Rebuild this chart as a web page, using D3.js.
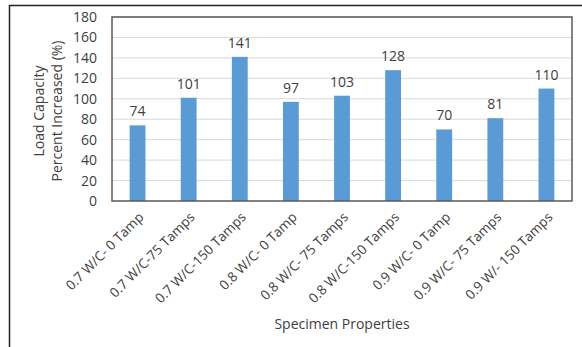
<!DOCTYPE html>
<html>
<head>
<meta charset="utf-8">
<script src="https://cdn.jsdelivr.net/npm/d3@7"></script>
<style>
  body { margin: 0; background: #fff; }
  text { font-family: "Open Sans", sans-serif; fill: #404040; }
</style>
</head>
<body>
<svg width="582" height="347"></svg>
<script>
const categories = [
    '0.7 W/C- 0 Tamp', '0.7 W/C-75 Tamps', '0.7 W/C-150 Tamps',
    '0.8 W/C- 0 Tamp', '0.8 W/C- 75 Tamps', '0.8 W/C-150 Tamps',
    '0.9 W/C- 0 Tamp', '0.9 W/C- 75 Tamps', '0.9 W/- 150 Tamps'
];
const values = [74, 101, 141, 97, 103, 128, 70, 81, 110];
const yTicks = [0, 20, 40, 60, 80, 100, 120, 140, 160, 180];

const svg = d3.select('svg');
const font = '"Open Sans", sans-serif';

// outer frame (only left and top visible)
svg.append('path')
    .attr('d', 'M9.5,347 V5.5 H582')
    .attr('fill', 'none')
    .attr('stroke', '#222')
    .attr('stroke-width', 1.5);

const margin = { top: 17, right: 10, bottom: 146, left: 112 };
const innerWidth = 572 - margin.left;
const innerHeight = 201 - margin.top;

const g = svg.append('g')
    .attr('transform', `translate(${margin.left}, ${margin.top})`);

const xScale = d3.scaleBand()
    .domain(categories)
    .range([0, innerWidth])
    .paddingInner(0.69)
    .paddingOuter(0.345);

const yScale = d3.scaleLinear()
    .domain([0, 180])
    .range([innerHeight, 0]);

// gridlines
g.append('g')
    .selectAll('line')
    .data(yTicks.slice(1))
    .join('line')
    .attr('x1', 0)
    .attr('x2', innerWidth)
    .attr('y1', d => yScale(d))
    .attr('y2', d => yScale(d))
    .attr('stroke', '#d9d9d9')
    .attr('stroke-width', 1);

// bars
g.selectAll('rect.bar')
    .data(values)
    .join('rect')
    .attr('class', 'bar')
    .attr('x', (d, i) => xScale(categories[i]))
    .attr('y', d => yScale(d))
    .attr('width', xScale.bandwidth())
    .attr('height', d => innerHeight - yScale(d))
    .attr('fill', '#5b9bd5');

// value labels
g.selectAll('text.value')
    .data(values)
    .join('text')
    .attr('class', 'value')
    .attr('x', (d, i) => xScale(categories[i]) + xScale.bandwidth() / 2)
    .attr('y', d => yScale(d) - 9)
    .attr('text-anchor', 'middle')
    .style('font-size', '14px')
    .text(d => d);

// plot border
g.append('rect')
    .attr('width', innerWidth)
    .attr('height', innerHeight)
    .attr('fill', 'none')
    .attr('stroke', '#595959')
    .attr('stroke-width', 1.5);

// y axis
const yAxisG = g.append('g')
    .call(d3.axisLeft(yScale).tickValues(yTicks).tickSize(0).tickPadding(15));
yAxisG.select('.domain').remove();
yAxisG.selectAll('text')
    .style('font-size', '14px')
    .style('font-family', font)
    .attr('fill', '#404040');

// x axis
const xAxisG = g.append('g')
    .attr('transform', `translate(0, ${innerHeight})`)
    .call(d3.axisBottom(xScale).tickSize(0));
xAxisG.select('.domain').remove();
xAxisG.selectAll('text')
    .style('font-size', '13.5px')
    .style('font-family', font)
    .attr('fill', '#404040')
    .attr('text-anchor', 'end')
    .attr('dy', 0)
    .attr('y', 0)
    .attr('transform', 'translate(7, 17) rotate(-45)');

// axis titles
const yTitle = svg.append('text')
    .attr('transform', 'translate(44, 111) rotate(-90)')
    .attr('text-anchor', 'middle')
    .style('font-size', '14px');
yTitle.append('tspan').attr('x', 0).attr('dy', 0).text('Load Capacity');
yTitle.append('tspan').attr('x', 0).attr('dy', 18).text('Percent Increased (%)');

svg.append('text')
    .attr('x', 342)
    .attr('y', 329)
    .attr('text-anchor', 'middle')
    .style('font-size', '14px')
    .text('Specimen Properties');
</script>
</body>
</html>
